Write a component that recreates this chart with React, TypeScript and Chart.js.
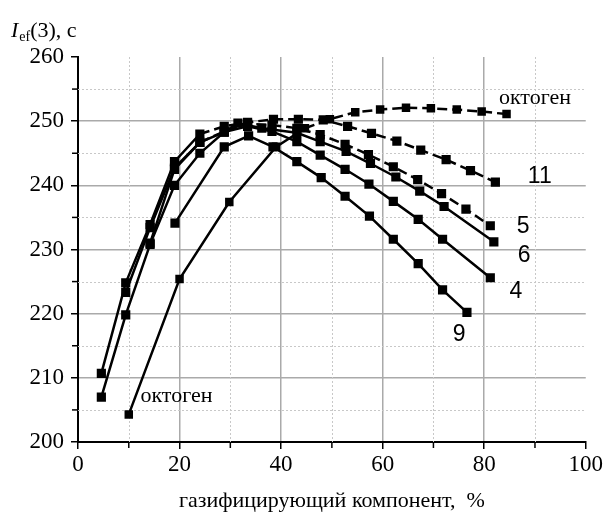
import React, { useEffect, useRef } from 'react';
import { Chart, registerables } from 'chart.js';

Chart.register(...registerables);

// ---- data ----
const octogenX = [10, 20, 29.8, 39, 44.7, 49.6, 54.6, 59.5, 64.6, 69.5, 74.6, 79.5, 84.4];
const octogenY = [204.3, 225.4, 237.4, 246.0, 248.9, 250.3, 251.4, 251.8, 252.1, 252.0, 251.8, 251.5, 251.1];

const s11X = [4.6, 9.4, 14.2, 19.0, 24.0, 28.8, 33.4, 38.5, 43.4, 48.3, 53.1, 57.8, 62.8, 67.5, 72.5, 77.3, 82.2];
const s11Y = [210.7, 224.8, 233.9, 243.7, 248.0, 249.2, 249.8, 250.3, 250.3, 250.2, 249.2, 248.1, 246.9, 245.5, 244.0, 242.3, 240.5];

const s5X = [9.4, 14.2, 19.0, 24.0, 28.8, 33.4, 38.2, 43.1, 47.7, 52.6, 57.2, 62.1, 66.9, 71.6, 76.4, 81.2];
const s5Y = [223.3, 233.4, 242.7, 246.7, 248.4, 249.6, 249.4, 248.9, 247.9, 246.4, 244.8, 242.9, 240.9, 238.7, 236.3, 233.7];

const s6X = [14.2, 19.0, 24.0, 28.8, 31.5, 36.2, 43.1, 47.7, 52.8, 57.6, 62.6, 67.3, 72.1, 81.9];
const s6Y = [231.0, 242.5, 246.7, 248.3, 249.7, 248.9, 248.2, 246.8, 245.3, 243.4, 241.3, 239.1, 236.7, 231.2];

const s4X = [4.6, 9.4, 14.2, 19.0, 24.0, 28.8, 33.4, 38.2, 43.1, 47.7, 52.6, 57.3, 62.1, 67.0, 71.8, 81.2];
const s4Y = [207.0, 219.8, 230.8, 240.0, 245.0, 248.3, 249.2, 248.4, 246.8, 244.7, 242.5, 240.2, 237.5, 234.7, 231.6, 225.6];

const s9X = [19.1, 28.8, 33.6, 38.4, 43.1, 47.9, 52.6, 57.4, 62.1, 67.0, 71.8, 76.6];
const s9Y = [234.1, 246.0, 247.7, 246.0, 243.7, 241.2, 238.3, 235.2, 231.6, 227.8, 223.7, 220.2];

const xMinorTicks = [10, 30, 50, 70, 90];
const yMinorTicks = [205, 215, 225, 235, 245, 255];

// curve annotations: text, data x (left), data y (baseline)
const annText = ['октоген', 'октоген', '11', '5', '6', '4', '9'];
const annX = [82.9, 12.3, 88.6, 86.4, 86.6, 85.0, 73.8];
const annY = [252.7, 206.3, 240.4, 232.5, 228.0, 222.4, 215.8];
const annSerif = [true, true, false, false, false, false, false];

const SERIF = '"Liberation Serif", "Times New Roman", serif';
const SANS = '"Liberation Sans", Arial, sans-serif';

const pts = (xs: number[], ys: number[]) => xs.map((x, i) => ({ x, y: ys[i] }));

const decorPlugin = {
  id: 'decor',
  beforeDatasetsDraw(chart: any) {
    const { ctx, chartArea: a, scales } = chart;
    const x = scales.x, y = scales.y;
    ctx.save();
    ctx.strokeStyle = '#c8c8c8';
    ctx.lineWidth = 1;
    ctx.setLineDash([2, 2]);
    for (const v of xMinorTicks) {
      const px = Math.round(x.getPixelForValue(v)) + 0.5;
      ctx.beginPath(); ctx.moveTo(px, a.top); ctx.lineTo(px, a.bottom); ctx.stroke();
    }
    for (const v of yMinorTicks) {
      const py = Math.round(y.getPixelForValue(v)) + 0.5;
      ctx.beginPath(); ctx.moveTo(a.left, py); ctx.lineTo(a.right, py); ctx.stroke();
    }
    ctx.setLineDash([]);
    ctx.strokeStyle = '#000';
    ctx.lineWidth = 1.5;
    for (const v of xMinorTicks) {
      const px = x.getPixelForValue(v);
      ctx.beginPath(); ctx.moveTo(px, a.bottom); ctx.lineTo(px, a.bottom + 6); ctx.stroke();
    }
    for (const v of yMinorTicks) {
      const py = y.getPixelForValue(v);
      ctx.beginPath(); ctx.moveTo(a.left, py); ctx.lineTo(a.left - 6, py); ctx.stroke();
    }
    ctx.restore();
  },
  afterDraw(chart: any) {
    const { ctx, scales } = chart;
    const x = scales.x, y = scales.y;
    ctx.save();
    ctx.fillStyle = '#000';
    ctx.textBaseline = 'alphabetic';
    ctx.textAlign = 'left';
    annText.forEach((t, i) => {
      ctx.font = annSerif[i] ? `22px ${SERIF}` : `23px ${SANS}`;
      ctx.fillText(t, x.getPixelForValue(annX[i]), y.getPixelForValue(annY[i]));
    });
    // y axis title: I_ef(3), c
    let cx = 11;
    ctx.font = `italic 22px ${SERIF}`;
    ctx.fillText('I', cx, 37);
    cx += ctx.measureText('I').width + 1;
    ctx.font = `14px ${SERIF}`;
    ctx.fillText('ef', cx, 41);
    cx += ctx.measureText('ef').width;
    ctx.font = `22px ${SERIF}`;
    ctx.fillText('(3), c', cx, 37);
    ctx.restore();
  },
};

const dashFrom = (x0: number) => ({
  borderDash: (c: any) => (c.p0.parsed.x < x0 ? [] : [10, 5]),
});

const lineDs = (label: string, xs: number[], ys: number[], dashStart: number | null, radius = 6.5) => ({
  label,
  data: pts(xs, ys),
  borderColor: '#000',
  backgroundColor: '#000',
  borderWidth: 2.5,
  borderDash: [],
  segment: dashStart === null ? undefined : dashFrom(dashStart),
  pointStyle: 'rect',
  pointRadius: radius,
  pointBackgroundColor: '#000',
  pointBorderColor: '#000',
  pointBorderWidth: 0,
  tension: 0,
});

export default function App() {
  const ref = useRef<HTMLCanvasElement | null>(null);
  useEffect(() => {
    if (!ref.current) return;
    const chart = new Chart(ref.current, {
      type: 'line',
      data: {
        datasets: [
          lineDs('октоген', octogenX, octogenY, 40, 6),
          lineDs('11', s11X, s11Y, 24),
          lineDs('5', s5X, s5Y, 24),
          lineDs('6', s6X, s6Y, null),
          lineDs('4', s4X, s4Y, null),
          lineDs('9', s9X, s9Y, null),
        ],
      },
      options: {
        animation: false,
        responsive: false,
        devicePixelRatio: 1,
        layout: { padding: { top: 57, right: 19, left: 0, bottom: 0 } },
        plugins: { legend: { display: false }, tooltip: { enabled: false } },
        scales: {
          x: {
            type: 'linear',
            min: 0,
            max: 100,
            afterFit: (s: any) => { s.height = 76; },
            ticks: {
              stepSize: 20,
              color: '#000',
              padding: 2,
              font: { family: SERIF, size: 23 },
            },
            grid: {
              color: (c: any) => (c.tick && c.tick.value === 100 ? 'rgba(0,0,0,0)' : '#aaaaaa'),
              lineWidth: 1.5,
              tickColor: '#000',
              tickLength: 7,
              tickWidth: 1.5,
            },
            border: { color: '#000', width: 2 },
            title: {
              display: true,
              text: 'газифицирующий компонент,  %',
              color: '#000',
              font: { family: SERIF, size: 22 },
              padding: { top: 0, bottom: 4 },
            },
          },
          y: {
            type: 'linear',
            min: 200,
            max: 260,
            afterFit: (s: any) => { s.width = 78; },
            ticks: {
              stepSize: 10,
              color: '#000',
              padding: 7,
              font: { family: SERIF, size: 23 },
            },
            grid: {
              color: (c: any) => (c.tick && c.tick.value === 260 ? 'rgba(0,0,0,0)' : '#aaaaaa'),
              lineWidth: 1.5,
              tickColor: '#000',
              tickLength: 7,
              tickWidth: 1.5,
            },
            border: { color: '#000', width: 2 },
          },
        },
      },
      plugins: [decorPlugin],
    } as any);
    return () => chart.destroy();
  }, []);
  return (
    <div style={{ position: 'fixed', left: 0, top: 0, width: 605, height: 518, background: '#fff' }}>
      <canvas ref={ref} width={605} height={518} style={{ display: 'block', width: 605, height: 518 }} />
    </div>
  );
}
